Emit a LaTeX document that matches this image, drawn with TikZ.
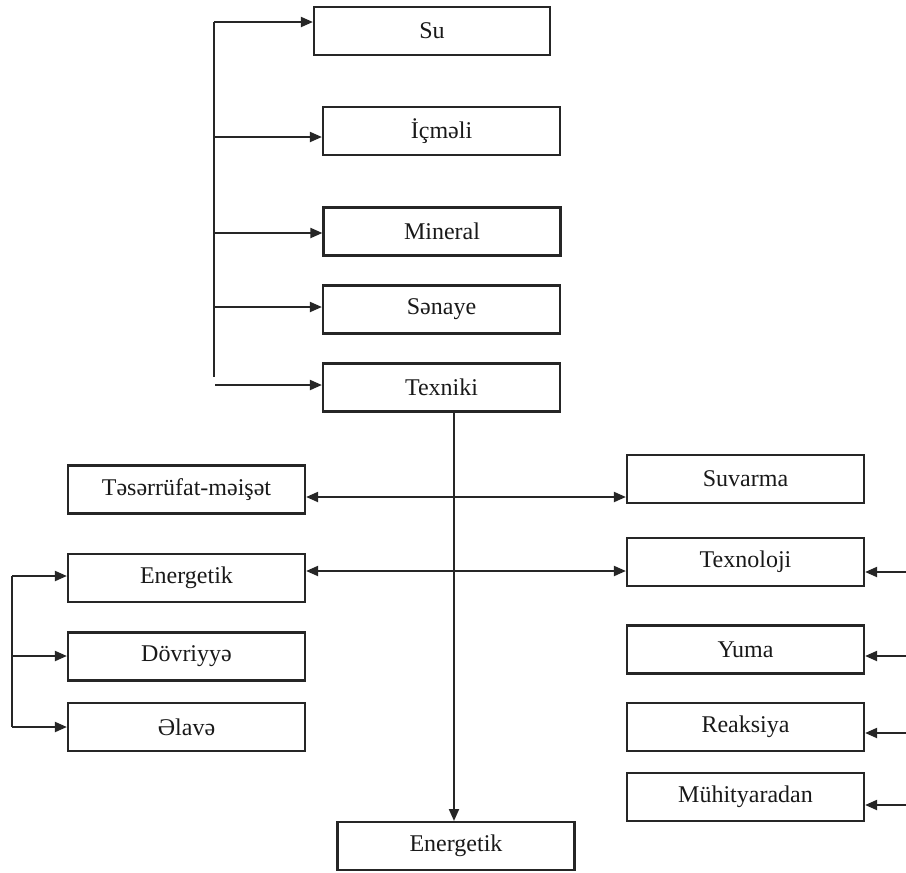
\documentclass[tikz,border=0pt]{standalone}
\usepackage{fontspec}
\setmainfont{Liberation Serif}
\usetikzlibrary{arrows.meta}
\begin{document}
\begin{tikzpicture}[x=1pt,y=-1pt,
  box/.style={draw=black!85, line width=2.2pt, minimum height=48pt, minimum width=237pt,
    inner sep=0pt, font=\fontsize{24}{28}\selectfont, text=black!90},
  tip/.tip={Triangle[length=12pt,width=10pt]},
  link/.style={line width=2pt, draw=black!85, -tip},
  bilink/.style={line width=2pt, draw=black!85, tip-tip},
  wire/.style={line width=2pt, draw=black!85}]
\useasboundingbox (0,0) rectangle (906,873);

% upper column of water kinds
\node[box, minimum width=236pt] (su)  at (432,31)    {Su};
\node[box] (icm) at (441.5,131)  {İçməli};
\node[box] (min) at (442,231.5)  {Mineral};
\node[box] (sen) at (441.5,309.5){Sənaye};
\node[box] (tex) at (441.5,387.5){Texniki};

% left column
\node[box] (tes) at (186.5,489.5){Təsərrüfat-məişət};
\node[box] (en1) at (186.5,578)  {Energetik};
\node[box] (dov) at (186.5,656.5){Dövriyyə};
\node[box] (ela) at (186.5,727)  {Əlavə};

% right column
\node[box] (suv) at (745.5,479)  {Suvarma};
\node[box] (tnl) at (745.5,562)  {Texnoloji};
\node[box] (yum) at (745.5,649.5){Yuma};
\node[box] (rea) at (745.5,727)  {Reaksiya};
\node[box] (muh) at (745.5,797)  {Mühityaradan};

% bottom
\node[box] (en2) at (456,846){Energetik};

% top bracket
\coordinate (tb0) at (214,22);
\coordinate (tb1) at (214,377);
\draw[wire] (tb0) -- (tb1);
\draw[link] (tb0) -- (su.west |- tb0);
\draw[link] (214,137) -- (icm.west |- 0,137);
\draw[link] (214,233) -- (min.west |- 0,233);
\draw[link] (214,307) -- (sen.west |- 0,307);
\coordinate (tx0) at (215,385);
\draw[link] (tx0) -- (tex.west |- tx0);

% trunk from Texniki down
\coordinate (tr) at (454,411.5);
\draw[link] (tr) -- (454,821);

% crossing branches
\coordinate (r1) at (454,497);
\draw[bilink] (tes.east |- r1) -- (suv.west |- r1);
\coordinate (r2) at (454,571);
\draw[bilink] (en1.east |- r2) -- (tnl.west |- r2);

% left bracket
\coordinate (lb0) at (12,576);
\coordinate (lb1) at (12,727);
\draw[wire] (lb0) -- (lb1);
\draw[link] (lb0) -- (en1.west |- lb0);
\draw[link] (12,656) -- (dov.west |- 0,656);
\draw[link] (lb1) -- (ela.west |- lb1);

% arrows entering from the right edge
\draw[link] (906,572) -- (tnl.east |- 0,572);
\draw[link] (906,656) -- (yum.east |- 0,656);
\draw[link] (906,733) -- (rea.east |- 0,733);
\draw[link] (906,805) -- (muh.east |- 0,805);
\end{tikzpicture}
\end{document}
